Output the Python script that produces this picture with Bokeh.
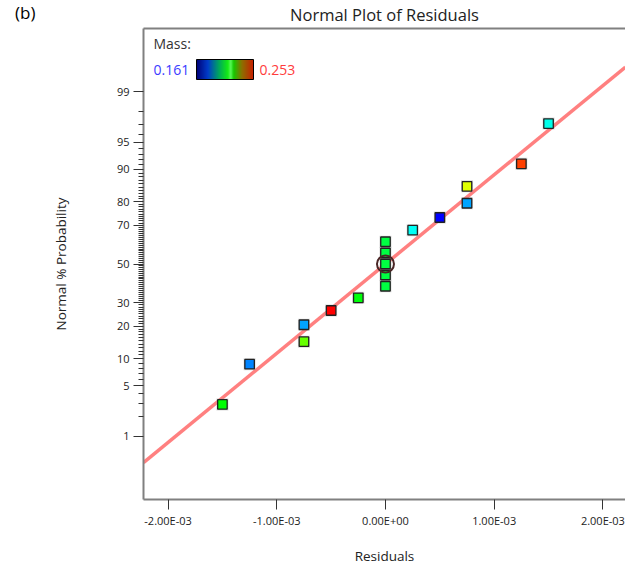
from statistics import NormalDist
import numpy as np
from bokeh.plotting import figure
from bokeh.layouts import column
from bokeh.models import (ColumnDataSource, FixedTicker, LinearAxis, Label,
                          ColorBar, LinearColorMapper, Range1d)
from bokeh.embed import file_html
from bokeh.resources import INLINE

# ---------------- data ----------------
residuals = [-1.50e-3, -1.25e-3, -0.75e-3, -0.75e-3, -0.50e-3, -0.25e-3,
             0.0, 0.0, 0.0, 0.0, 0.0,
             0.25e-3, 0.50e-3, 0.75e-3, 0.75e-3, 1.25e-3, 1.50e-3]
probability = [2.9, 8.8, 14.7, 20.6, 26.5, 32.4,
               38.2, 44.1, 50.0, 55.9, 61.8,
               67.6, 73.5, 79.4, 85.3, 91.2, 97.1]
mass = [0.207, 0.173, 0.216, 0.176, 0.253, 0.206,
        0.201, 0.201, 0.201, 0.201, 0.201,
        0.185, 0.161, 0.176, 0.227, 0.247, 0.186]
highlight_index = 8
mass_low, mass_high = 0.161, 0.253

fit_mean, fit_sd = 0.0, 8.3e-4          # normal fit line
x_limits = (-2.226e-3, 2.208e-3)
z_limits = (-3.18, 3.18)

x_ticks = [-2e-3, -1e-3, 0.0, 1e-3, 2e-3]
x_tick_labels = ["-2.00E-03", "-1.00E-03", "0.00E+00", "1.00E-03", "2.00E-03"]
prob_major = [1, 5, 10, 20, 30, 50, 70, 80, 90, 95, 99]
prob_minor = [q for q in range(1, 100) if q not in prob_major]

title_text = "Normal Plot of Residuals"
panel_tag = "(b)"

FONT = "Open Sans"
nd = NormalDist()

def z_of(pct):
    return nd.inv_cdf(pct / 100.0)

def ramp(anchors, n=256):
    pos = [a[0] for a in anchors]
    out = []
    for i in range(n):
        t = i / (n - 1)
        rgb = [int(round(np.interp(t, pos, [a[1][k] for a in anchors]))) for k in range(3)]
        out.append("#%02x%02x%02x" % tuple(rgb))
    return out

point_palette = ramp([(0.0, (0, 0, 255)), (0.25, (0, 255, 255)), (0.5, (0, 255, 0)),
                      (0.75, (255, 255, 0)), (1.0, (255, 0, 0))])
legend_palette = ramp([(0.0, (0, 0, 120)), (0.2, (0, 60, 200)), (0.4, (0, 170, 90)),
                       (0.55, (20, 235, 20)), (0.6, (90, 250, 90)), (0.65, (20, 200, 0)),
                       (0.8, (140, 110, 0)), (1.0, (200, 30, 0))])

pt_mapper = LinearColorMapper(palette=point_palette, low=mass_low, high=mass_high)
lg_mapper = LinearColorMapper(palette=legend_palette, low=mass_low, high=mass_high)

src = ColumnDataSource(dict(x=residuals, z=[z_of(v) for v in probability], mass=mass))
hl = ColumnDataSource(dict(x=[residuals[highlight_index]],
                           z=[z_of(probability[highlight_index])]))
line_x = list(x_limits)
line_src = ColumnDataSource(dict(x=line_x, z=[(v - fit_mean) / fit_sd for v in line_x]))

W = 625
HEAD = 27                  # header strip (title + panel tag)
H = 567 - HEAD             # main figure height
BL, BT, BB = 143, 1, 66
FH = H - BT - BB           # frame height
FB_PAGE = HEAD + BT + FH   # frame bottom, page px

AX = "#808080"
TK = "#333333"
TXT = "#222222"

# ---------------- header ----------------
head = figure(width=W, height=HEAD, output_backend="svg", toolbar_location=None,
              x_range=Range1d(0, 1), y_range=Range1d(0, HEAD),
              x_axis_type=None, y_axis_type=None,
              min_border_left=BL, min_border_right=0, min_border_top=0, min_border_bottom=0)
head.outline_line_color = None
head.xgrid.visible = False
head.ygrid.visible = False
tag_y = HEAD - 19
tag_axis = LinearAxis(ticker=FixedTicker(ticks=[tag_y]),
                      major_label_overrides={tag_y: panel_tag})
tag_axis.axis_line_color = None
tag_axis.major_tick_line_color = None
tag_axis.minor_tick_line_color = None
tag_axis.major_tick_out = 0
tag_axis.major_tick_in = 0
tag_axis.major_label_standoff = BL - 35
tag_axis.major_label_text_font = FONT
tag_axis.major_label_text_font_size = "17px"
tag_axis.major_label_text_color = "black"
head.add_layout(tag_axis, "left")
head.add_layout(Label(x=384 - BL, y=HEAD - 13.5, x_units="screen", y_units="screen",
                      text=title_text, text_align="center", text_baseline="middle",
                      text_font=FONT, text_font_size="16.5px", text_color=TXT))

# ---------------- main plot ----------------
p = figure(width=W, height=H, output_backend="svg", toolbar_location=None,
           x_range=Range1d(*x_limits), y_range=Range1d(*z_limits),
           x_axis_type=None, y_axis_type=None,
           min_border_left=BL, min_border_right=0, min_border_top=BT, min_border_bottom=BB)
p.outline_line_color = None
p.background_fill_color = "white"
p.border_fill_color = "white"
p.xgrid.visible = False
p.ygrid.visible = False

xa = LinearAxis(ticker=FixedTicker(ticks=x_ticks),
                major_label_overrides=dict(zip(x_ticks, x_tick_labels)),
                axis_label="Residuals")
xa.axis_line_color = AX
xa.axis_line_width = 2
xa.major_tick_line_color = TK
xa.major_tick_out = 10
xa.major_tick_in = 0
xa.minor_tick_line_color = None
xa.major_label_standoff = 3
xa.major_label_text_font = FONT
xa.major_label_text_font_size = "11px"
xa.major_label_text_color = TXT
xa.axis_label_standoff = 16
xa.axis_label_text_font = FONT
xa.axis_label_text_font_size = "13.5px"
xa.axis_label_text_font_style = "normal"
xa.axis_label_text_color = TXT
p.add_layout(xa, "below")

zmaj = [z_of(q) for q in prob_major]
zmin = [z_of(q) for q in prob_minor]
ya = LinearAxis(ticker=FixedTicker(ticks=zmaj, minor_ticks=zmin),
                major_label_overrides={z: str(q) for z, q in zip(zmaj, prob_major)},
                axis_label="Normal % Probability")
ya.axis_line_color = AX
ya.axis_line_width = 2
ya.major_tick_line_color = TK
ya.major_tick_out = 10
ya.major_tick_in = 0
ya.minor_tick_line_color = TK
ya.minor_tick_out = 5
ya.minor_tick_in = 0
ya.major_label_standoff = 4
ya.major_label_text_font = FONT
ya.major_label_text_font_size = "11px"
ya.major_label_text_color = TXT
ya.axis_label_standoff = 44
ya.axis_label_text_font = FONT
ya.axis_label_text_font_size = "13.5px"
ya.axis_label_text_font_style = "normal"
ya.axis_label_text_color = TXT
p.add_layout(ya, "left")

top = LinearAxis(ticker=FixedTicker(ticks=[]))
top.axis_line_color = AX
top.axis_line_width = 2
top.major_tick_line_color = None
top.minor_tick_line_color = None
top.major_label_text_font_size = "0px"
top.major_label_standoff = 0
p.add_layout(top, "above")

# fit line
p.line("x", "z", source=line_src, line_color="#ff8080", line_width=3.5)

# points
p.scatter("x", "z", source=src, marker="square", size=12,
          fill_color="#999999", fill_alpha=0.35, line_color=None)
p.scatter("x", "z", source=src, marker="square", size=9.5,
          fill_color={"field": "mass", "transform": pt_mapper},
          line_color="#222222", line_width=1.3)
p.scatter("x", "z", source=hl, marker="circle", size=17,
          fill_color=None, line_color="#4a2626", line_width=2)

# legend texts (screen units measured from the frame's bottom-left corner)
def sx(px):
    return px - BL

def sy(py):
    return FB_PAGE - py

p.add_layout(Label(x=sx(153), y=sy(45), x_units="screen", y_units="screen",
                   text="Mass:", text_align="left", text_baseline="middle",
                   text_font=FONT, text_font_size="14px", text_color="#333333"))
p.add_layout(Label(x=sx(153), y=sy(71), x_units="screen", y_units="screen",
                   text="%.3f" % mass_low, text_align="left", text_baseline="middle",
                   text_font=FONT, text_font_size="14px", text_color="#3c3cff"))
p.add_layout(Label(x=sx(259), y=sy(71), x_units="screen", y_units="screen",
                   text="%.3f" % mass_high, text_align="left", text_baseline="middle",
                   text_font=FONT, text_font_size="14px", text_color="#ff3c3c"))

cb = ColorBar(color_mapper=lg_mapper, orientation="horizontal",
              location=(sx(196), sy(81)), width=57, height=20, padding=0,
              ticker=FixedTicker(ticks=[]), major_label_text_font_size="0px",
              major_tick_line_color=None, minor_tick_line_color=None,
              bar_line_color="black", bar_line_width=1,
              background_fill_alpha=0, border_line_color=None)
p.add_layout(cb, "center")

layout = column(head, p, spacing=0)
open("out.html", "w").write(file_html(layout, INLINE))
